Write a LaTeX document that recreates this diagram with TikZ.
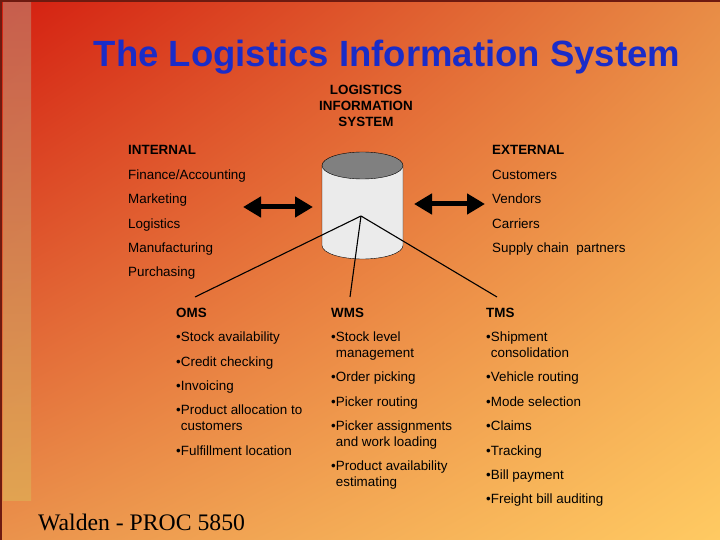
\documentclass[tikz,border=0pt]{standalone}
\usepackage{fontspec}
\setmainfont{Liberation Sans}
\newfontfamily\footfont{Liberation Serif}
\usetikzlibrary{arrows.meta,shadings}
\definecolor{titleblue}{RGB}{26,44,200}
\definecolor{bgred}{RGB}{212,30,16}
\definecolor{bgorange}{RGB}{232,140,70}
\definecolor{bgorangeb}{RGB}{234,146,76}
\definecolor{bgyellow}{RGB}{255,202,98}
\definecolor{edgebrown}{RGB}{110,26,16}
\definecolor{stripA}{RGB}{196,110,92}
\definecolor{stripB}{RGB}{224,170,84}
\newcommand{\ind}{\phantom{\textbullet}}

\begin{document}
\begin{tikzpicture}[x=1bp, y=-1bp,
    item/.style={anchor=base west, inner sep=0pt, align=left,
      font=\fontsize{13.4bp}{15.7bp}\selectfont},
    head/.style={item, font=\fontsize{13.4bp}{15.7bp}\selectfont\bfseries},
    link/.style={line width=1.1bp},
    flow/.style={line width=5bp, {Triangle[length=18bp,width=20bp]}-{Triangle[length=18bp,width=20bp]}}]
    \useasboundingbox (0,0) rectangle (720,540);
    % background
    \shade[upper left=bgred, upper right=bgorange, lower left=bgorangeb, lower right=bgyellow] (0,0) rectangle (720,540);
    \shade[top color=stripA, bottom color=stripB, opacity=0.8] (3,3) rectangle (31,500);
    \draw[edgebrown, line width=2bp] (1,540) -- (1,1) -- (720,1);

    \node[anchor=base, text=titleblue, font=\fontsize{36.5bp}{40bp}\selectfont\bfseries] (title) at (387,67) {The Logistics Information System};
    % base of a multi-line node = its last line
    \node[anchor=base, align=center, inner sep=0pt, font=\fontsize{13.4bp}{16bp}\selectfont\bfseries] (lis) at (366,127) {LOGISTICS\\INFORMATION\\SYSTEM};

    % database
    \draw[fill=black!8] (322,165.5) -- (322,245.5) arc[start angle=180, end angle=0, x radius=40.5, y radius=13.5] -- (403,165.5);
    \draw[fill=black!50] (362.5,165.5) ellipse[x radius=40.5, y radius=13.5];
    \coordinate (hub) at (361,216);

    % internal / external
    \node[head] (int) at (128,155) {INTERNAL};
    \node[item] (int1) at (128,179.4) {Finance/Accounting};
    \node[item] (int2) at (128,203.8) {Marketing};
    \node[item] (int3) at (128,228.2) {Logistics};
    \node[item] (int4) at (128,252.6) {Manufacturing};
    \node[item] (int5) at (128,277) {Purchasing};

    \node[head] (ext) at (492,155) {EXTERNAL};
    \node[item] (ext1) at (492,179.4) {Customers};
    \node[item] (ext2) at (492,203.8) {Vendors};
    \node[item] (ext3) at (492,228.2) {Carriers};
    \node[item] (ext4) at (492,252.6) {Supply chain\ \ partners};

    \coordinate (inl) at (243,207);
    \coordinate (inr) at (313,207);
    \coordinate (exl) at (414,204);
    \coordinate (exr) at (485,204);
    \draw[flow] (inl) -- (inr);
    \draw[flow] (exl) -- (exr);

    % subsystems
    \node[head] (oms) at (176,317) {OMS};
    \node[item] (oms1) at (176,341.7) {\textbullet Stock availability};
    \node[item] (oms2) at (176,366.1) {\textbullet Credit checking};
    \node[item] (oms3) at (176,390.5) {\textbullet Invoicing};
    \node[item] (oms4) at (176,430.6) {\textbullet Product allocation to\\\ind customers};
    \node[item] (oms5) at (176,455) {\textbullet Fulfillment location};

    \node[head] (wms) at (331,317) {WMS};
    \node[item] (wms1) at (331,357.4) {\textbullet Stock level\\\ind management};
    \node[item] (wms2) at (331,381.8) {\textbullet Order picking};
    \node[item] (wms3) at (331,406.2) {\textbullet Picker routing};
    \node[item] (wms4) at (331,446.3) {\textbullet Picker assignments\\\ind and work loading};
    \node[item] (wms5) at (331,486.4) {\textbullet Product availability\\\ind estimating};

    \node[head] (tms) at (486,317) {TMS};
    \node[item] (tms1) at (486,357.4) {\textbullet Shipment\\\ind consolidation};
    \node[item] (tms2) at (486,381.8) {\textbullet Vehicle routing};
    \node[item] (tms3) at (486,406.2) {\textbullet Mode selection};
    \node[item] (tms4) at (486,430.6) {\textbullet Claims};
    \node[item] (tms5) at (486,455) {\textbullet Tracking};
    \node[item] (tms6) at (486,479.4) {\textbullet Bill payment};
    \node[item] (tms7) at (486,503.8) {\textbullet Freight bill auditing};

    \coordinate (omsend) at (195,297);
    \coordinate (wmsend) at (350,297);
    \coordinate (tmsend) at (497,297);
    \draw[link] (hub) -- (omsend);
    \draw[link] (hub) -- (wmsend);
    \draw[link] (hub) -- (tmsend);

    \node[anchor=base west, inner sep=0pt, font=\footfont\fontsize{23.7bp}{26bp}\selectfont] (foot) at (38,530) {Walden - PROC 5850};
  \end{tikzpicture}
\end{document}
